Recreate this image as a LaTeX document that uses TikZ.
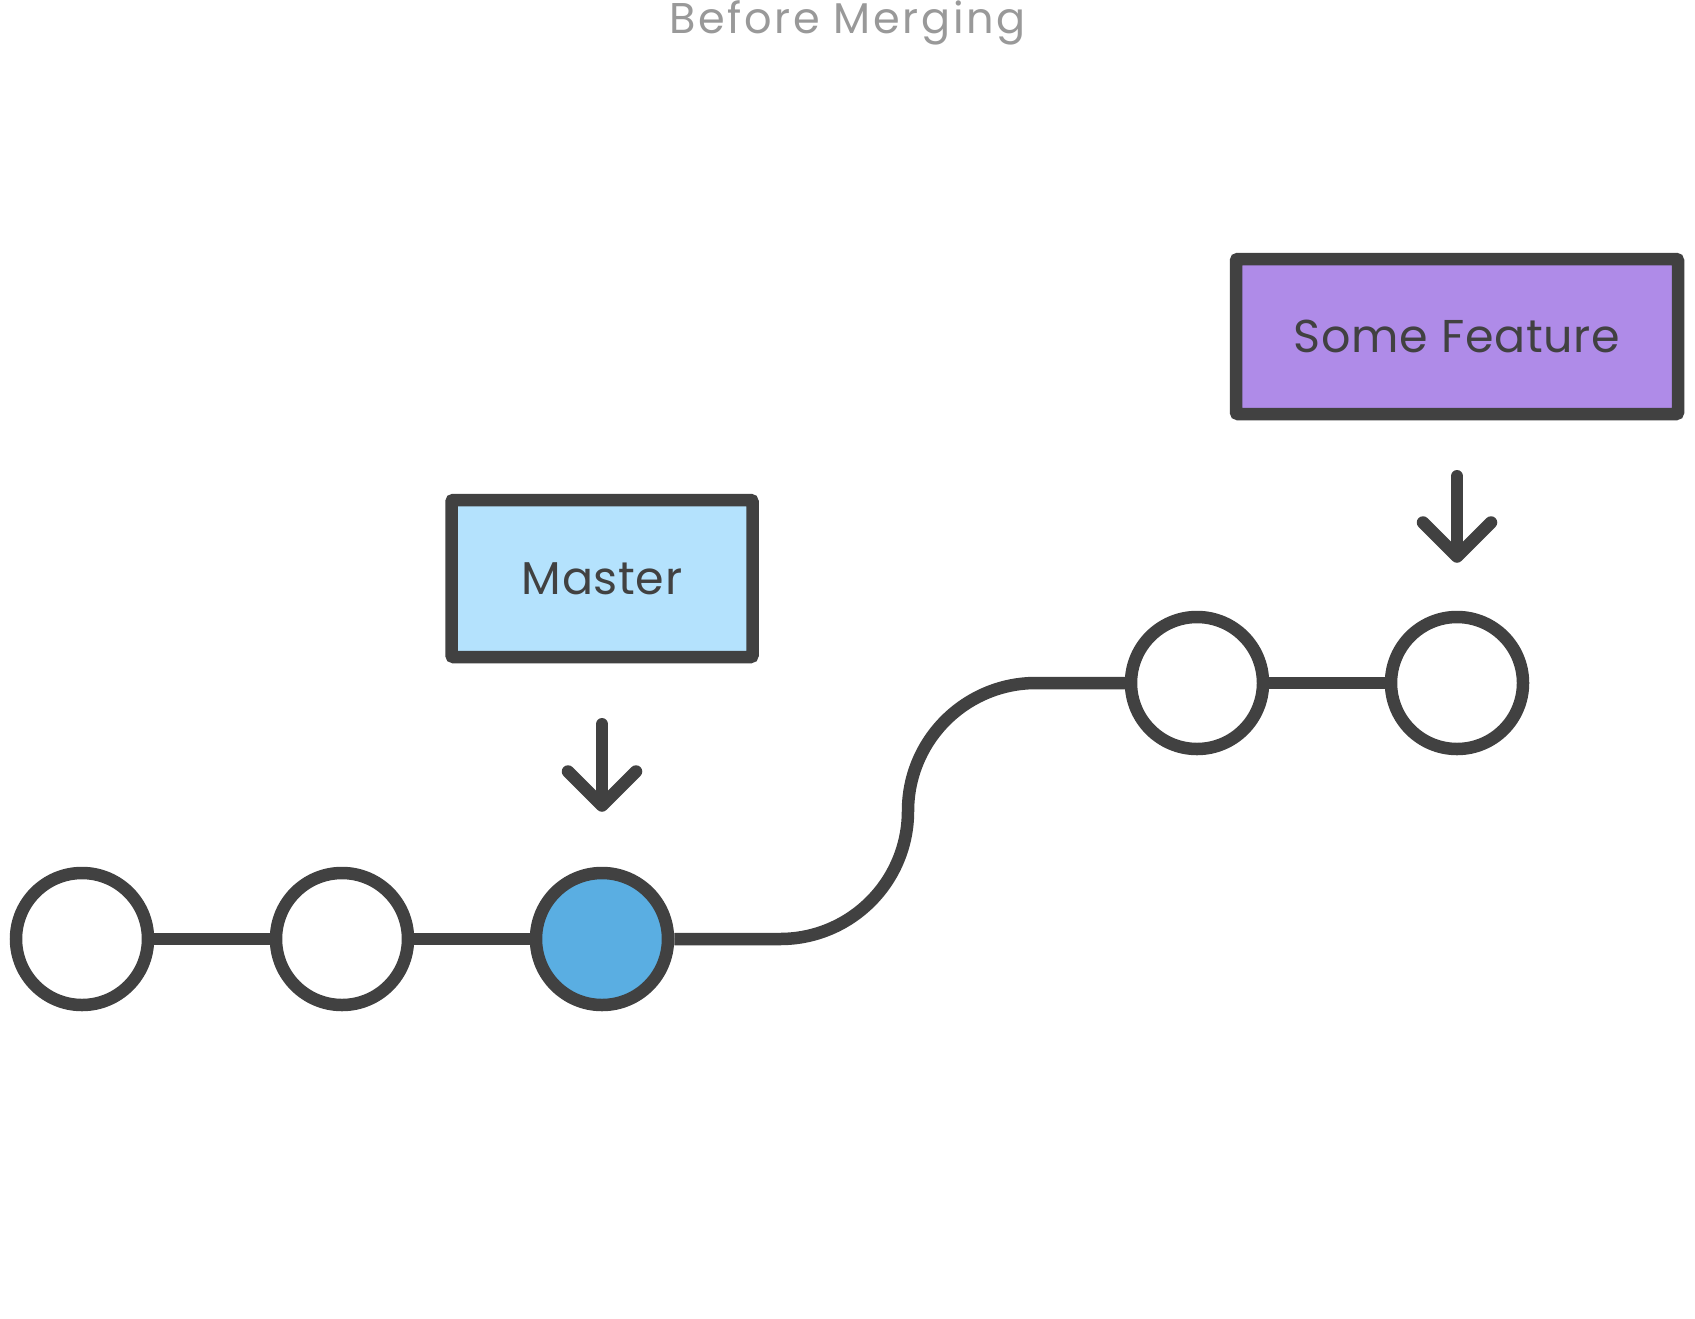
\documentclass[tikz,border=0pt]{standalone}
\usepackage{fontspec}
\setmainfont{Poppins}
\newfontfamily\captionfont[LetterSpace=6]{Poppins}
\newfontfamily\labelfont[LetterSpace=1.5]{Poppins}
\usepackage{tikz}
\usetikzlibrary{arrows.meta}

\definecolor{ink}{HTML}{414141}
\definecolor{masterblue}{HTML}{B4E2FD}
\definecolor{featurepurple}{HTML}{AF8BE8}
\definecolor{headblue}{HTML}{5AAEE2}
\definecolor{captiongray}{HTML}{999999}

\begin{document}
\begin{tikzpicture}[x = 1pt, y = -1pt, line width = 12.5pt,
                        commit/.style = {circle, draw = ink, fill = white, minimum size = 132pt, inner sep = 0pt},
                        head/.style = {commit, fill = headblue},
                        branch/.style = {rectangle, draw = ink, rounded corners = 2pt, inner sep = 0pt,
                                         text = ink, font = \labelfont\fontsize{46}{54}\selectfont},
                        pointer/.style = {draw = ink, line cap = round,
                                          -{Straight Barb[length = 34pt, width = 68pt, round]}}]
      \useasboundingbox [fill = white] (0, 0) rectangle (1695, 1318);
      \node [anchor = base, text = captiongray, font = \captionfont\fontsize{43}{50}\selectfont] (caption) at (847.5, 33){Before Merging};

      \node [commit] (c1) at (82, 939){};
      \node [commit] (c2) at (342, 939){};
      \node [head] (c3) at (602, 939){};
      \node [commit] (f1) at (1197, 683){};
      \node [commit] (f2) at (1457, 683){};
      \coordinate (low) at (908, 939);
      \coordinate (high) at (908, 683);

      \node [branch, fill = masterblue, minimum width = 301pt, minimum height = 157pt] (master) at (602, 578.5){Master};
      \node [branch, fill = featurepurple, minimum width = 442pt, minimum height = 155pt] (feature) at (1457, 336.5){Some Feature};

      \draw [ink] (c1) -- (c2) -- (c3);
      \draw [ink, rounded corners = 128pt] (c3) -- (low) -- (high) -- (f1);
      \draw [ink] (f1) -- (f2);
      \draw [pointer, shorten <= 61pt, shorten >= 55pt] (master) -- (c3);
      \draw [pointer, shorten <= 56pt, shorten >= 48pt] (feature) -- (f2);

      \end{tikzpicture}
\end{document}
